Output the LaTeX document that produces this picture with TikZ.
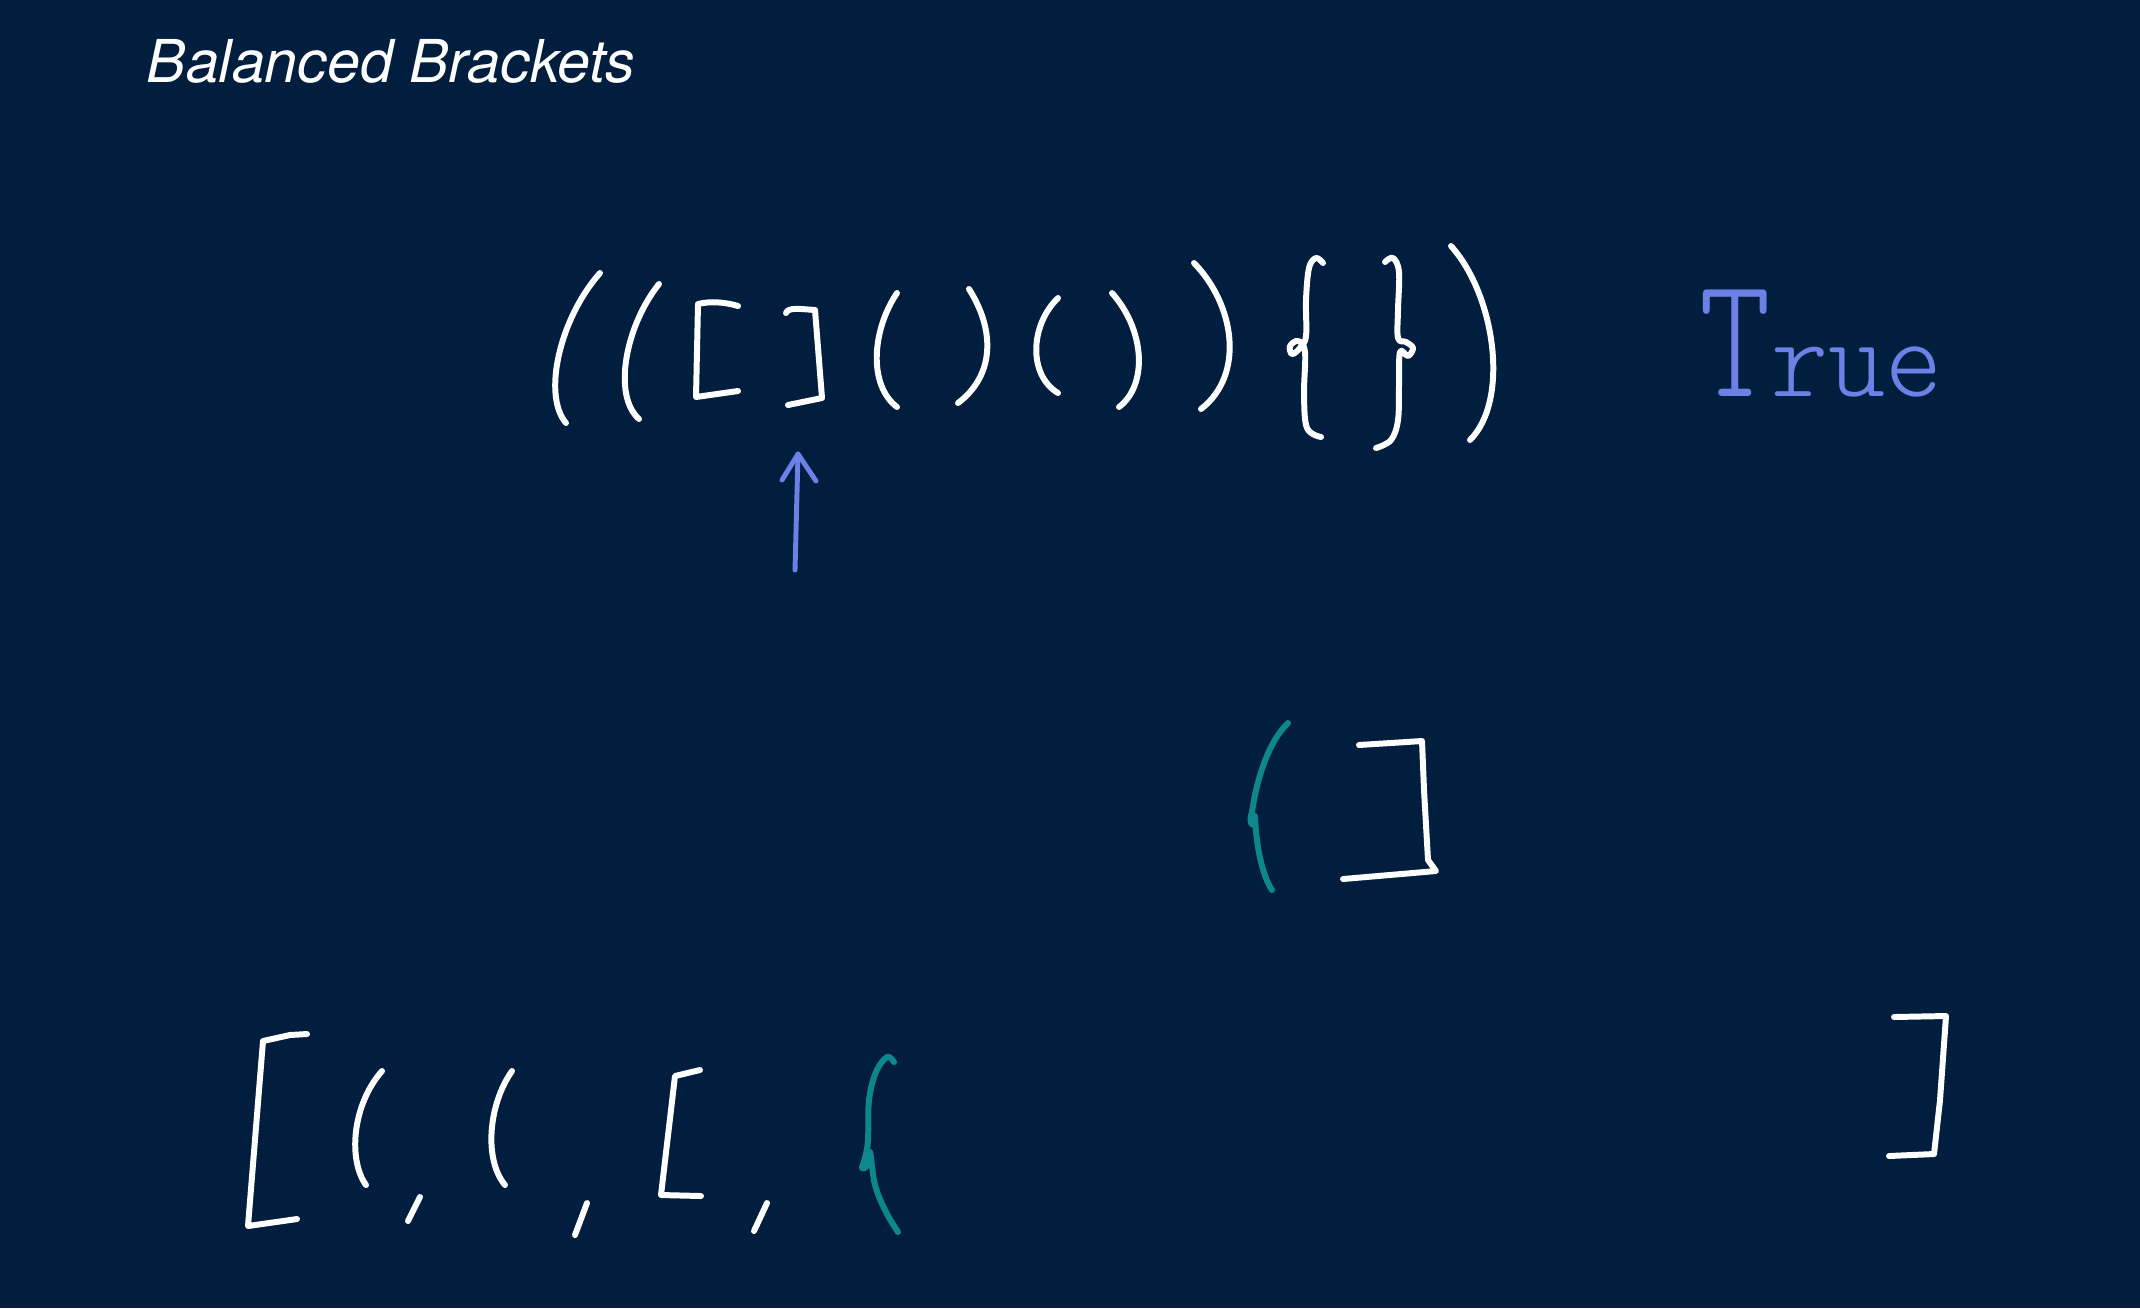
\documentclass[tikz,border=0pt]{standalone}
\usepackage{fontspec}
\usepackage{graphicx}
\newfontfamily\titlefont{TeX Gyre Heros}
\newfontfamily\handfont{lmmonolt10-regular.otf}
\definecolor{bgnavy}{RGB}{2,30,62}
\definecolor{inkblue}{RGB}{108,128,230}
\definecolor{inkteal}{RGB}{14,135,140}
\tikzset{
  ink/.style={draw=white, line width=1.7pt, line cap=round, line join=round},
  blueink/.style={ink, draw=inkblue, line width=1.4pt},
  tealink/.style={ink, draw=inkteal},
}
\begin{document}
\begin{tikzpicture}[x=0.01cm, y=-0.01cm]
\fill[bgnavy] (0,0) rectangle (2140,1308);
\useasboundingbox (0,0) rectangle (2140,1308);

% title
\node[anchor=base west, inner sep=0pt, text=white, font=\titlefont\itshape\fontsize{16.8}{18}\selectfont] (title) at (146,82) {Balanced Brackets};

% top row: (([])()){})
\draw[ink] (600,273) .. controls (560,318) and (542,395) .. (566,423);
\draw[ink] (659,284) .. controls (626,325) and (612,395) .. (639,419);
\draw[ink] (738,306) .. controls (725,302) and (710,301) .. (698,304) -- (696,397) -- (738,391);
\draw[ink] (786,313) .. controls (788,307) and (800,309) .. (815,310) -- (822,398) -- (788,405);
\draw[ink] (897,293) .. controls (872,330) and (868,385) .. (897,407);
\draw[ink] (969,289) .. controls (995,330) and (995,375) .. (958,403);
\draw[ink] (1058,298) .. controls (1030,325) and (1028,375) .. (1058,393);
\draw[ink] (1112,293) .. controls (1145,330) and (1148,385) .. (1119,407);
\draw[ink] (1194,263) .. controls (1235,305) and (1245,375) .. (1201,409);
\draw[ink] plot[smooth, tension=0.6] coordinates {(1323,263) (1316,258) (1309,268) (1306,300) (1306,336) (1300,348) (1292,354) (1290,346) (1298,341) (1305,352) (1304,395) (1307,428) (1321,437)};
\draw[ink] plot[smooth, tension=0.6] coordinates {(1385,262) (1393,258) (1399,272) (1398,310) (1398,338) (1406,342) (1413,348) (1408,356) (1400,352) (1399,385) (1398,420) (1391,440) (1376,448)};
\draw[ink] (1451,246) .. controls (1495,295) and (1510,400) .. (1470,440);

% pointer arrow
\coordinate (tip) at (798,454);
\coordinate (tail) at (795,570);
\draw[blueink] (tail) -- (tip);
\draw[blueink] (782,480) -- (tip) -- (816,481);

% result
\node[anchor=base west, inner sep=0pt, text=inkblue, font=\handfont\fontsize{31}{31}\selectfont] (result) at (1699,396) {\scalebox{1.25}[1.6]{T}\scalebox{1}[1.05]{rue}};

% middle: ( ]
\draw[tealink] (1288,723) .. controls (1265,745) and (1255,790) .. (1252,812) .. controls (1247,826) and (1256,830) .. (1255,816) .. controls (1256,845) and (1262,875) .. (1272,890);
\draw[ink] (1359,745) -- (1422,741) -- (1424,790) -- (1428,860) -- (1436,871) -- (1343,879);

% bottom row: [ (, (, [, {   ]
\draw[ink] (307,1034) -- (290,1035) -- (263,1041) -- (248,1226) -- (297,1219);
\draw[ink] (382,1071) .. controls (352,1105) and (348,1160) .. (366,1185);
\draw[ink] (420,1197) -- (408,1221);
\draw[ink] (512,1071) .. controls (488,1105) and (484,1160) .. (505,1185);
\draw[ink] (587,1203) -- (575,1235);
\draw[ink] (700,1070) -- (675,1076) -- (661,1195) -- (701,1196);
\draw[ink] (767,1203) -- (754,1231);
\draw[tealink] plot[smooth, tension=0.6] coordinates {(894,1062) (887,1057) (876,1072) (869,1100) (868,1140) (865,1158) (862,1168) (867,1166) (870,1152) (875,1185) (886,1212) (898,1232)};
\draw[ink] (1894,1017) -- (1946,1016) -- (1940,1100) -- (1934,1154) -- (1889,1156);
\end{tikzpicture}
\end{document}
